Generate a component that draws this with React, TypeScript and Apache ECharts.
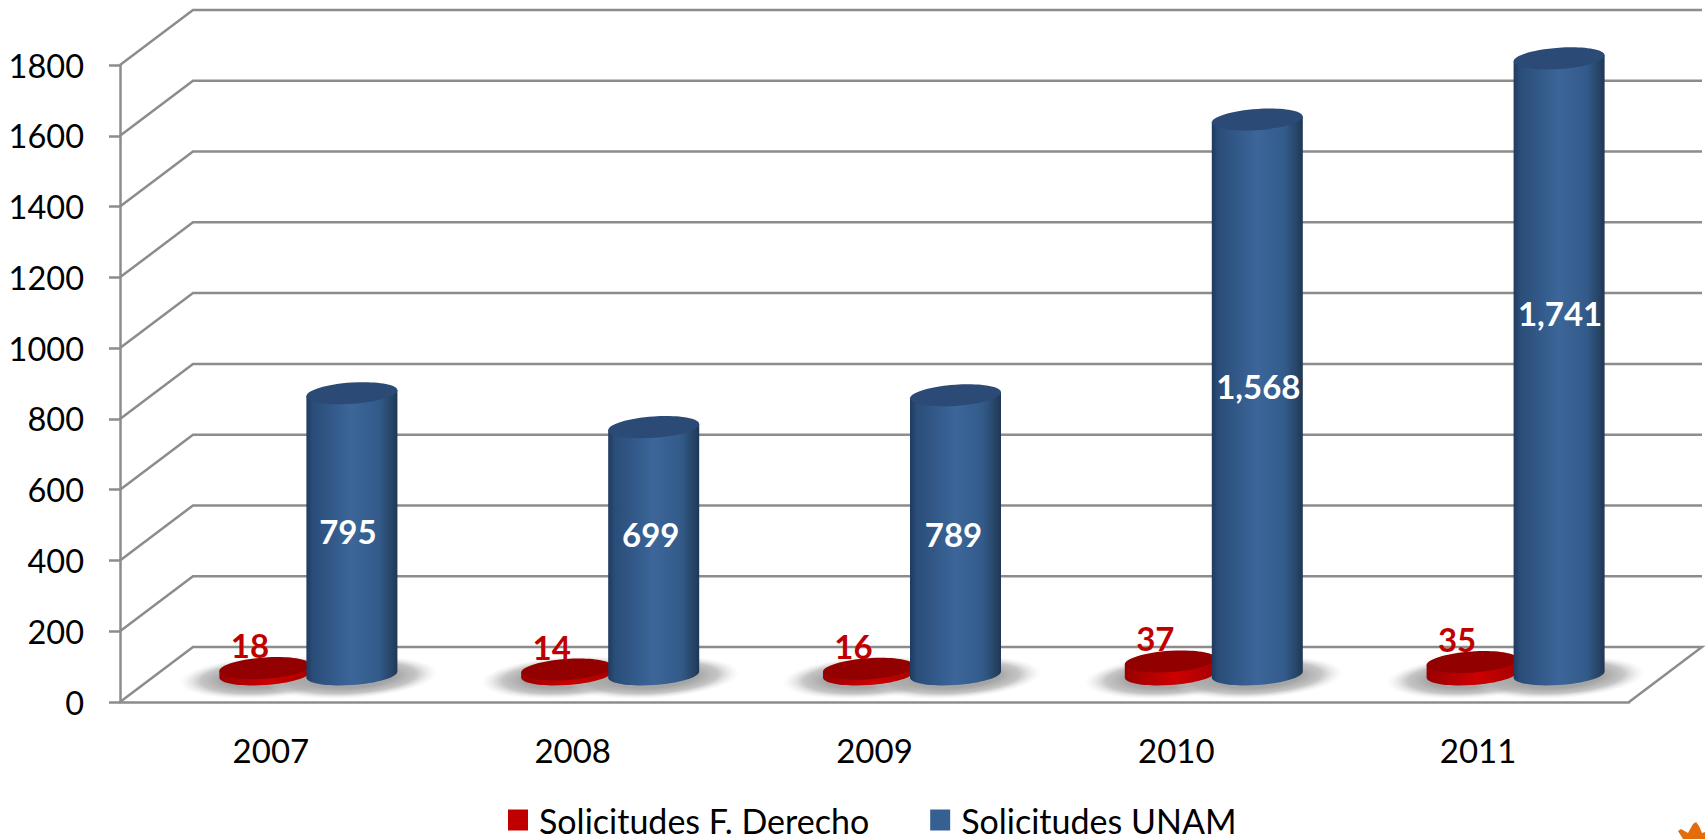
import React, { useEffect, useRef } from "react";
import * as echarts from "echarts";

const years = ["2007", "2008", "2009", "2010", "2011"];
const solicitudesDerecho = [18, 14, 16, 37, 35];
const solicitudesUnam = [795, 699, 789, 1568, 1741];
const yTicks = [0, 200, 400, 600, 800, 1000, 1200, 1400, 1600, 1800];
const unamLabelLift = [3, 17, 1, 11, 53];
const unamLabelShift = [-4, -3, -2, 1, 1];

const FONT = "Lato";
const GRID_LINE = "#8c8c8c";
const DEPTH_X = 73;
const DEPTH_Y = 55;
const BAR_OFFSET = 43.5;
const CENTER_NUDGE = 1;
const RX = 45.5;
const RY = 10.6;
const TILT = 3 / 45.5;
const K = 0.5523;

function pt(cx: number, cy: number, a: number, b: number, ux: number, uy: number) {
  return `${(cx + a * ux).toFixed(2)} ${(cy + b * uy - TILT * a * ux).toFixed(2)}`;
}
function lowerArc(cx: number, cy: number, a: number, b: number) {
  const p = (x: number, y: number) => pt(cx, cy, a, b, x, y);
  return `C${p(-1, K)} ${p(-K, 1)} ${p(0, 1)} C${p(K, 1)} ${p(1, K)} ${p(1, 0)}`;
}
function upperArc(cx: number, cy: number, a: number, b: number) {
  const p = (x: number, y: number) => pt(cx, cy, a, b, x, y);
  return `C${p(1, -K)} ${p(K, -1)} ${p(0, -1)} C${p(-K, -1)} ${p(-1, -K)} ${p(-1, 0)}`;
}

function cylinderSeries(
  name: string,
  values: number[],
  side: number,
  swatch: string,
  top: string,
  stops: { offset: number; color: string }[],
  label: (api: any, i: number, cx: number, topY: number, baseY: number) => any
) {
  return {
    type: "custom",
    name,
    z: 5,
    clip: false,
    itemStyle: { color: swatch },
    encode: { x: 0, y: 1 },
    data: values.map((v, i) => [i, v]),
    renderItem: (_p: any, api: any) => {
      const i = api.value(0);
      const v = api.value(1);
      const base = api.coord([i, 0]);
      const head = api.coord([i, v]);
      const cx = base[0] + DEPTH_X / 2 + side * BAR_OFFSET + CENTER_NUDGE;
      const baseY = base[1] - DEPTH_Y / 2;
      const topY = head[1] - DEPTH_Y / 2;
      const p = (y: number, ux: number) => pt(cx, y, RX, RY, ux, 0);
      const bodyPath = `M${p(topY, -1)} L${p(baseY, -1)} ${lowerArc(cx, baseY, RX, RY)} L${p(topY, 1)} Z`;
      const topPath = `M${p(topY, 1)} ${upperArc(cx, topY, RX, RY)} ${lowerArc(cx, topY, RX, RY)} Z`;
      return {
        type: "group",
        children: [
          {
            type: "path",
            shape: { pathData: bodyPath },
            style: { fill: new echarts.graphic.LinearGradient(0, 0, 1, 0, stops) },
          },
          { type: "path", shape: { pathData: topPath }, style: { fill: top } },
          label(api, i, cx, topY, baseY),
        ],
      };
    },
  };
}

const floorShadowSeries = (values: number[], side: number) => ({
  type: "custom",
  name: "sombra" + side,
  z: 3,
  clip: false,
  silent: true,
  encode: { x: 0, y: 1 },
  data: values.map((v, i) => [i, v]),
  renderItem: (_p: any, api: any) => {
    const base = api.coord([api.value(0), 0]);
    return {
      type: "ellipse",
      x: base[0] + DEPTH_X / 2 + side * BAR_OFFSET + CENTER_NUDGE,
      y: base[1] - DEPTH_Y / 2 + 3,
      rotation: 0.06,
      shape: { cx: 0, cy: 0, rx: 86, ry: 21 },
      style: {
        fill: new echarts.graphic.RadialGradient(0.5, 0.5, 0.5, [
          { offset: 0, color: "rgba(165,165,165,1)" },
          { offset: 0.5, color: "rgba(165,165,165,1)" },
          { offset: 0.75, color: "rgba(178,178,178,0.75)" },
          { offset: 1, color: "rgba(225,225,225,0)" },
        ]),
      },
    };
  },
});

const wallSeries = {
  type: "custom",
  name: "pared",
  z: 1,
  clip: false,
  silent: true,
  encode: { y: 0 },
  data: yTicks.map((t) => [t]),
  renderItem: (params: any, api: any) => {
    const v = api.value(0);
    const sys = params.coordSys;
    const y = api.coord([0, v])[1];
    const points: number[][] = [
      [sys.x, y],
      [sys.x + DEPTH_X, y - DEPTH_Y],
      [sys.x + sys.width + DEPTH_X, y - DEPTH_Y],
    ];
    if (v === 0) points.push([sys.x + sys.width, y]);
    return {
      type: "polyline",
      shape: { points },
      style: { stroke: GRID_LINE, lineWidth: 2.5, fill: "none" },
    };
  },
};

export default function App() {
  const ref = useRef<HTMLDivElement>(null);
  useEffect(() => {
    const chart = echarts.init(ref.current!, undefined, { renderer: "svg" });
    chart.setOption({
      animation: false,
      backgroundColor: "#ffffff",
      grid: { left: 120, top: 65, width: 1509, height: 637 },
      legend: {
        left: 503,
        top: 798,
        icon: "rect",
        itemWidth: 20,
        itemHeight: 21,
        itemGap: 61,
        data: ["Solicitudes F. Derecho", "Solicitudes UNAM"],
        textStyle: {
          fontFamily: FONT,
          fontSize: 34,
          lineHeight: 30,
          color: "#000000",
          padding: [0, 0, 0, 6],
        },
      },
      xAxis: {
        type: "category",
        data: years,
        axisLine: { lineStyle: { color: GRID_LINE, width: 2.5 } },
        axisTick: { length: 11, lineStyle: { color: GRID_LINE, width: 2.5 } },
        axisLabel: { fontFamily: FONT, fontSize: 33, color: "#000000", margin: 31 },
      },
      yAxis: {
        type: "value",
        min: 0,
        max: 1800,
        interval: 200,
        splitLine: { show: false },
        axisLine: { show: true, lineStyle: { color: GRID_LINE, width: 2.5 } },
        axisTick: { show: true, length: 11, lineStyle: { color: GRID_LINE, width: 2.5 } },
        axisLabel: {
          fontFamily: FONT,
          fontSize: 32.5,
          color: "#000000",
          margin: 36,
          formatter: (v: number) => String(v),
        },
      },
      graphic: [
        {
          type: "polygon",
          silent: true,
          shape: {
            points: [
              [1678, 831], [1681, 829], [1688, 833], [1693, 824], [1696, 822],
              [1699, 826], [1702, 833], [1705, 832], [1705, 839], [1683, 839],
            ],
          },
          style: { fill: "#E46C0A" },
        },
      ],
      series: [
        wallSeries,
        floorShadowSeries(solicitudesDerecho, -1),
        floorShadowSeries(solicitudesUnam, 1),
        cylinderSeries(
          "Solicitudes F. Derecho",
          solicitudesDerecho,
          -1,
          "#C00000",
          "#930000",
          [
            { offset: 0, color: "#9a0000" },
            { offset: 0.55, color: "#cc0000" },
            { offset: 1, color: "#a80000" },
          ],
          (api, i, cx, topY) => ({
            type: "text",
            x: cx - 15,
            y: topY - 23,
            z2: 10,
            style: {
              text: String(solicitudesDerecho[i]),
              fontFamily: FONT,
              fontWeight: "bold",
              fontSize: 33,
              fill: "#C00000",
              align: "center",
              verticalAlign: "middle",
            },
          })
        ),
        cylinderSeries(
          "Solicitudes UNAM",
          solicitudesUnam,
          1,
          "#376092",
          "#2b4a75",
          [
            { offset: 0, color: "#1f3a5f" },
            { offset: 0.07, color: "#2a4d78" },
            { offset: 0.3, color: "#335a8a" },
            { offset: 0.5, color: "#3c6699" },
            { offset: 0.8, color: "#335b8a" },
            { offset: 0.96, color: "#24405f" },
            { offset: 1, color: "#1f3654" },
          ],
          (api, i, cx, topY, baseY) => ({
            type: "text",
            x: cx + unamLabelShift[i],
            y: (topY + baseY) / 2 - unamLabelLift[i],
            z2: 10,
            style: {
              text: solicitudesUnam[i].toLocaleString("en-US"),
              fontFamily: FONT,
              fontWeight: "bold",
              fontSize: 33,
              fill: "#ffffff",
              align: "center",
              verticalAlign: "middle",
            },
          })
        ),
      ],
    });
    return () => chart.dispose();
  }, []);
  return (
    <div
      ref={ref}
      style={{ position: "fixed", left: 0, top: 0, width: 1705, height: 839 }}
    />
  );
}
